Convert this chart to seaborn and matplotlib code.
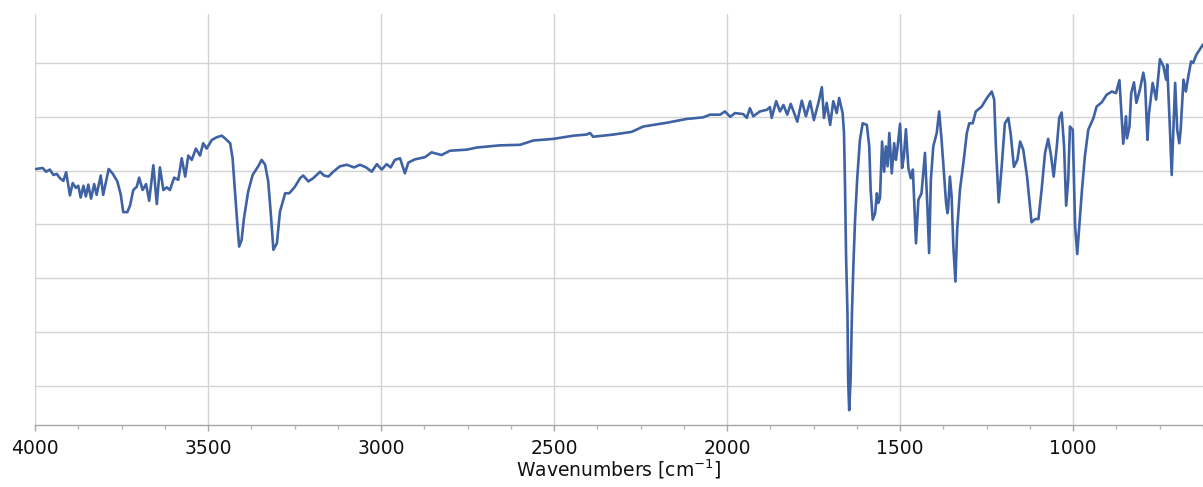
import numpy as np
import pandas as pd
import matplotlib
matplotlib.use("Agg")
import matplotlib.pyplot as plt
from matplotlib.ticker import AutoMinorLocator, NullFormatter
import seaborn as sns

# --- spectrum (wavenumber, transmittance-like units) ---
wavenumber = [
    3997, 3978, 3968, 3957, 3947, 3937, 3928, 3918, 3910, 3899, 3891, 3882, 3875, 3868,
    3860, 3853, 3846, 3838, 3829, 3822, 3810, 3803, 3787, 3775, 3762, 3752, 3745, 3733,
    3725, 3716, 3706, 3699, 3689, 3679, 3670, 3658, 3648, 3639, 3629, 3619, 3610, 3598,
    3586, 3576, 3566, 3557, 3547, 3535, 3523, 3514, 3504, 3489, 3475, 3460, 3451, 3436,
    3429, 3422, 3415, 3410, 3403, 3396, 3384, 3371, 3355, 3345, 3335, 3326, 3319, 3311,
    3301, 3292, 3277, 3265, 3249, 3234, 3225, 3210, 3196, 3176, 3165, 3152, 3138, 3119,
    3099, 3078, 3061, 3043, 3027, 3012, 2998, 2984, 2972, 2960, 2945, 2931, 2921, 2902,
    2873, 2854, 2825, 2801, 2752, 2723, 2656, 2598, 2560, 2502, 2444, 2406, 2396, 2387,
    2329, 2276, 2242, 2174, 2117, 2069, 2049, 2020, 2006, 1991, 1977, 1953, 1943, 1934,
    1924, 1905, 1885, 1876, 1871, 1858, 1847, 1837, 1826, 1816, 1806, 1797, 1784, 1772,
    1760, 1749, 1736, 1726, 1720, 1712, 1702, 1693, 1683, 1676, 1666, 1662, 1659, 1656,
    1652, 1650, 1647, 1643, 1639, 1635, 1630, 1624, 1616, 1608, 1596, 1589, 1585, 1579,
    1572, 1567, 1563, 1558, 1552, 1546, 1541, 1536, 1531, 1524, 1517, 1512, 1508, 1500,
    1494, 1489, 1483, 1476, 1469, 1463, 1454, 1447, 1438, 1428, 1421, 1416, 1411, 1404,
    1394, 1387, 1380, 1373, 1367, 1363, 1361, 1356, 1351, 1346, 1340, 1335, 1327, 1317,
    1307, 1300, 1290, 1281, 1264, 1249, 1235, 1228, 1223, 1215, 1207, 1197, 1187, 1180,
    1171, 1161, 1153, 1144, 1133, 1120, 1110, 1100, 1091, 1081, 1072, 1064, 1056, 1047,
    1040, 1033, 1026, 1020, 1014, 1009, 1001, 994, 988, 982, 975, 966, 956, 941,
    932, 917, 903, 888, 876, 866, 861, 855, 847, 844, 837, 832, 824, 817,
    807, 797, 792, 785, 781, 770, 760, 749, 739, 731, 728, 720, 715, 705,
    699, 693, 689, 681, 674, 667, 659, 653, 644, 625,
]
transmittance = [
    50.3, 50.5, 49.8, 50.2, 49.2, 49.4, 48.6, 48.1, 49.7, 45.4, 47.7, 46.8, 47.2, 45.0,
    47.2, 45.2, 47.4, 44.8, 47.5, 45.5, 49.1, 45.5, 50.3, 49.4, 48.0, 45.5, 42.3, 42.3,
    43.6, 46.4, 47.0, 48.7, 46.4, 47.5, 44.4, 51.0, 43.8, 50.6, 46.4, 46.9, 46.4, 48.7,
    48.3, 52.3, 48.9, 52.8, 52.0, 54.1, 52.8, 55.1, 54.1, 55.7, 56.2, 56.5, 56.0, 55.1,
    52.3, 46.1, 39.9, 35.9, 37.1, 41.2, 46.1, 49.2, 50.8, 52.0, 51.1, 48.0, 42.4, 35.3,
    36.5, 42.4, 45.8, 45.8, 47.0, 48.6, 49.1, 48.0, 48.6, 49.8, 49.1, 48.9, 49.8, 50.8,
    51.1, 50.6, 51.1, 50.6, 49.8, 51.2, 50.2, 51.2, 50.6, 52.0, 52.3, 49.5, 51.5, 52.1,
    52.5, 53.4, 52.9, 53.7, 53.9, 54.3, 54.7, 54.8, 55.6, 55.9, 56.5, 56.7, 57.0, 56.3,
    56.7, 57.2, 58.2, 58.9, 59.6, 59.9, 60.4, 60.4, 61.0, 60.0, 60.7, 60.5, 59.8, 61.6,
    60.1, 61.0, 61.3, 61.8, 59.8, 62.9, 61.0, 62.2, 60.4, 62.4, 60.7, 59.1, 63.0, 60.1,
    62.9, 59.4, 62.6, 65.5, 59.8, 62.6, 58.5, 62.9, 60.7, 63.5, 60.7, 57.0, 47.0, 34.0,
    23.5, 11.1, 5.5, 11.1, 23.5, 32.2, 40.9, 48.3, 55.7, 58.8, 58.5, 54.5, 46.4, 40.9,
    42.1, 45.8, 44.0, 44.9, 55.4, 49.8, 54.5, 50.8, 57.0, 49.5, 55.1, 52.0, 53.9, 58.7,
    50.5, 52.6, 57.7, 50.5, 48.6, 50.2, 36.5, 44.6, 45.8, 53.3, 43.3, 34.7, 48.3, 54.5,
    57.0, 61.0, 55.7, 49.5, 44.0, 42.1, 43.0, 48.9, 45.2, 35.9, 29.4, 39.0, 46.4, 51.4,
    57.0, 58.8, 58.8, 61.0, 61.9, 63.5, 64.7, 63.2, 54.5, 44.1, 50.2, 58.8, 59.8, 56.7,
    50.7, 52.0, 55.4, 53.9, 48.9, 40.4, 41.0, 41.0, 46.4, 53.3, 55.9, 52.9, 48.9, 54.5,
    59.8, 60.8, 54.5, 43.5, 48.3, 58.2, 57.6, 39.6, 34.5, 39.6, 45.8, 52.6, 57.6, 59.8,
    61.9, 62.7, 64.1, 64.7, 64.4, 66.8, 61.3, 55.0, 60.1, 56.0, 58.2, 64.4, 66.4, 62.6,
    65.0, 68.2, 66.3, 55.7, 60.4, 66.3, 63.2, 70.7, 69.4, 66.9, 69.7, 57.6, 49.2, 66.3,
    57.6, 55.1, 57.6, 66.9, 64.7, 67.5, 70.3, 70.0, 71.5, 73.4,
]
x_ticks = [4000, 3500, 3000, 2500, 2000, 1500, 1000]
y_grid = [10, 20, 30, 40, 50, 60, 70]

df = pd.DataFrame({"wavenumber": wavenumber, "transmittance": transmittance})

sns.set_style("white")
plt.rcParams["font.family"] = ["DejaVu Sans"]

fig = plt.figure(figsize=(12.03, 4.87), dpi=100)
ax = fig.add_axes([35 / 1203, 62 / 487, 1168 / 1203, 411 / 487])

sns.lineplot(data=df, x="wavenumber", y="transmittance", estimator=None,
             sort=False, color="#3F62A5", linewidth=1.9, ax=ax)

ax.set_xlim(4000, 624.5)
ax.set_ylim(2.75, 79.1)
ax.set_xticks(x_ticks)
ax.xaxis.set_minor_locator(AutoMinorLocator(4))
ax.set_yticks(y_grid)
ax.yaxis.set_major_formatter(NullFormatter())
ax.tick_params(axis="y", length=0, left=False)
ax.tick_params(axis="x", which="both", bottom=True, direction="out")
ax.tick_params(axis="x", which="major", length=4, width=1, color="#a6a6a6",
               labelsize=13.5, labelcolor="#111111", pad=6)
ax.tick_params(axis="x", which="minor", length=3, width=1, color="#b5b5b5")

ax.grid(True, which="major", color="#d3d3d3", linewidth=1)
for side in ["top", "right", "left"]:
    ax.spines[side].set_visible(False)
ax.spines["bottom"].set_color("#a6a6a6")
ax.spines["bottom"].set_linewidth(1)

ax.set_xlabel("Wavenumbers [cm$^{-1}$]", fontsize=13.5, color="#111111", labelpad=0)
ax.set_ylabel("")

fig.savefig("out.png", dpi=100)
